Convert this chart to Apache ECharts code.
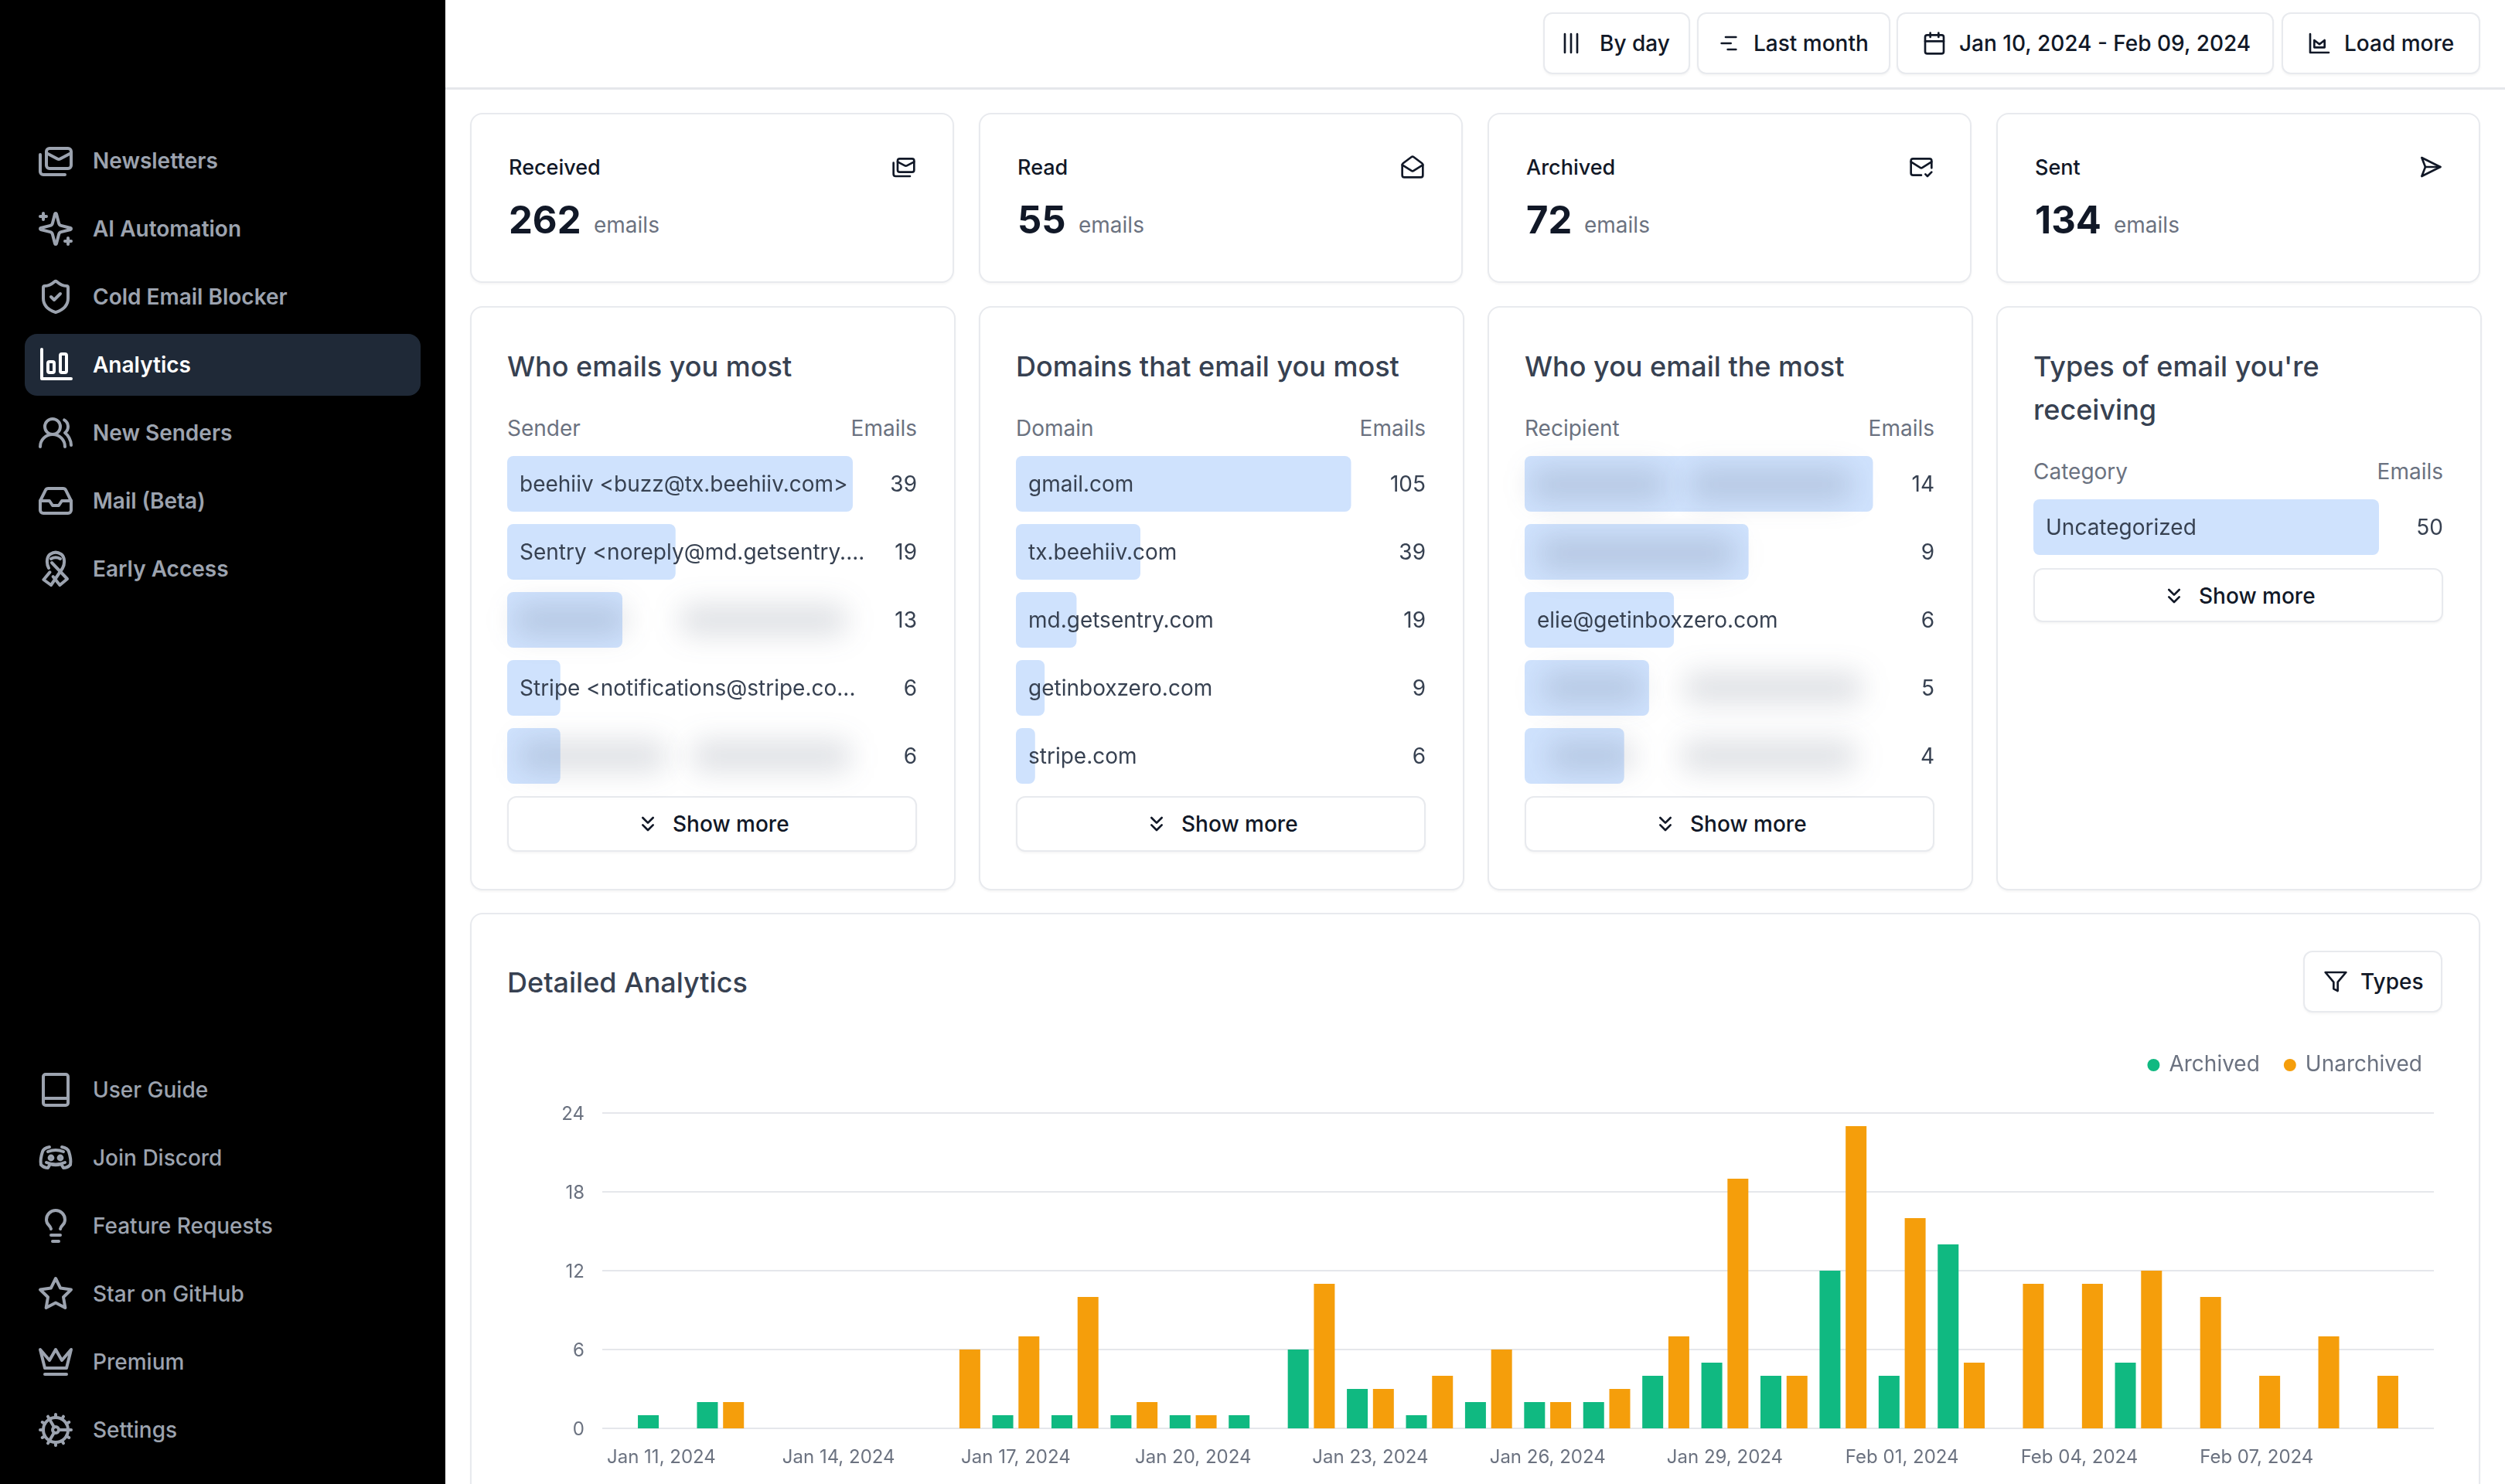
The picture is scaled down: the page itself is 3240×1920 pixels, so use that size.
<!DOCTYPE html>
<html><head><meta charset="utf-8">
<script src="https://cdn.jsdelivr.net/npm/echarts@6/dist/echarts.min.js"></script>
<style>
html,body{margin:0;padding:0;background:#fff;width:3240px;height:1920px;overflow:hidden;font-family:Inter,sans-serif}
#root,#chart{position:absolute;left:0;top:0;width:3240px;height:1920px}
#chart{z-index:2}
.box{position:absolute;box-sizing:border-box;background:#fff;border:2px solid #e8eaee;box-shadow:0 2px 3px rgba(0,0,0,.04)}
.t{position:absolute;white-space:nowrap;line-height:1;transform:translateY(-50%)}
.i{position:absolute;fill:none;stroke:currentColor;stroke-linecap:round;stroke-linejoin:round}
.b{position:absolute;z-index:3;background:rgba(60,72,95,.17);border-radius:14px;filter:blur(18px)}
</style></head><body>
<div id="root"></div><div id="chart"></div>
<div id="blobs"></div>
<script>
// ---- data ----
const dayLabels=['Jan 11, 2024','Jan 12, 2024','Jan 13, 2024','Jan 14, 2024','Jan 15, 2024','Jan 16, 2024','Jan 17, 2024','Jan 18, 2024','Jan 19, 2024','Jan 20, 2024','Jan 21, 2024','Jan 22, 2024','Jan 23, 2024','Jan 24, 2024','Jan 25, 2024','Jan 26, 2024','Jan 27, 2024','Jan 28, 2024','Jan 29, 2024','Jan 30, 2024','Jan 31, 2024','Feb 01, 2024','Feb 02, 2024','Feb 03, 2024','Feb 04, 2024','Feb 05, 2024','Feb 06, 2024','Feb 07, 2024','Feb 08, 2024','Feb 09, 2024'];
const archived  =[1,2,0,0,0,0,1,1,1,1,1,6,3,1,2,2,2,4,5,4,12,4,14,0,0,5,0,0,0,0];
const unarchived=[0,2,0,0,0,6,7,10,2,1,0,11,3,4,6,2,3,7,19,4,23,16,5,11,11,12,10,4,7,4];
const labeledDays=[0,3,6,9,12,15,18,21,24,27];
const senderNames=['beehiiv <buzz@tx.beehiiv.com>','Sentry <noreply@md.getsentry....','','Stripe <notifications@stripe.co...',''];
const senderValues=[39,19,13,6,6];
const domainNames=['gmail.com','tx.beehiiv.com','md.getsentry.com','getinboxzero.com','stripe.com'];
const domainValues=[105,39,19,9,6];
const recipientNames=['','','elie@getinboxzero.com','',''];
const recipientValues=[14,9,6,5,4];
const categoryNames=['Uncategorized'];
const categoryValues=[50];
const statCards=[['Received','262','mails'],['Read','55','open'],['Archived','72','check'],['Sent','134','send']];
const navTop=[['Newsletters','mails'],['AI Automation','spark'],['Cold Email Blocker','shield'],['Analytics','chart'],['New Senders','users'],['Mail (Beta)','inbox'],['Early Access','ribbon']];
const navBottom=[['User Guide','book'],['Join Discord','discord'],['Feature Requests','bulb'],['Star on GitHub','star'],['Premium','crown'],['Settings','cog']];

// ---- chrome ----
const ICON={
mails:'<rect width="16" height="13" x="6" y="4" rx="2"/><path d="m22 7-7.1 3.78c-.57.3-1.23.3-1.8 0L6 7"/><path d="M2 8v11c0 1.1.9 2 2 2h14"/>',
spark:'<path d="M9.937 15.5A2 2 0 0 0 8.5 14.063l-6.135-1.582a.5.5 0 0 1 0-.962L8.5 9.936A2 2 0 0 0 9.937 8.5l1.582-6.135a.5.5 0 0 1 .963 0L14.063 8.5A2 2 0 0 0 15.5 9.937l6.135 1.581a.5.5 0 0 1 0 .964L15.5 14.063a2 2 0 0 0-1.437 1.437l-1.582 6.135a.5.5 0 0 1-.963 0z"/><path d="M4 2v4M2 4h4M20 18v4M18 20h4"/>',
shield:'<path d="M20 13c0 5-3.5 7.5-7.66 8.95a1 1 0 0 1-.67-.01C7.5 20.5 4 18 4 13V6a1 1 0 0 1 1-1c2 0 4.5-1.2 6.24-2.72a1.17 1.17 0 0 1 1.52 0C14.51 3.81 17 5 19 5a1 1 0 0 1 1 1z"/><path d="m9 12 2 2 4-4"/>',
chart:'<path d="M3 2v19h19"/><rect width="4" height="7" x="7" y="10" rx="1"/><rect width="4" height="12" x="15" y="5" rx="1"/>',
users:'<path d="M18 21a8 8 0 0 0-16 0"/><circle cx="10" cy="8" r="5"/><path d="M22 20c0-3.37-2-6.5-4-8a5 5 0 0 0-.45-8.3"/>',
inbox:'<polyline points="22 12 16 12 14 15 10 15 8 12 2 12"/><path d="M5.45 5.11 2 12v6a2 2 0 0 0 2 2h16a2 2 0 0 0 2-2v-6l-3.45-6.89A2 2 0 0 0 16.76 4H7.24a2 2 0 0 0-1.79 1.11z"/>',
ribbon:'<path d="M7.5 11.5C5.8 8.500 6.200 4 8.500 2.500c2.200-1.500 4.800-1.500 7 0 2.300 1.500 2.700 6 1 9L9 22.500l-4.800-3.500 4-4.800"/><path d="M9 5.500c1.900-1.100 4.100-1.100 6 0M9.500 8l10 10.500-4.800 4-4.400-5.500"/>',
book:'<rect x="4" y="2" width="16" height="20" rx="1.5"/><path d="M4 17.5h16"/>',
discord:'<path d="M8 5C5 5.5 4 6.5 3.5 8 2.5 11 2 14 2.500 16.500 4 18 6 18.500 7 18.500L8.500 16c2 .7 5 .7 7 0L17 18.500c1 0 3-.5 4.500-2 .5-2.500 0-5.500-1-8.500-.5-1.500-1.500-2.500-4.500-3"/><path d="M7 8q5-2 10 0M6 15q6 2.500 12 0"/><circle cx="9" cy="12" r="1.200"/><circle cx="15" cy="12" r="1.200"/>',
bulb:'<path d="M15 14c.2-1 .7-1.700 1.500-2.500 1-.9 1.500-2.200 1.500-3.500A6 6 0 0 0 6 8c0 1 .2 2.200 1.500 3.500.7.7 1.300 1.500 1.500 2.500"/><path d="M9 18h6"/><path d="M10 22h4"/>',
star:'<polygon points="12 2 15.09 8.26 22 9.27 17 14.14 18.18 21.02 12 17.77 5.82 21.02 7 14.14 2 9.27 8.91 8.26 12 2"/>',
crown:'<path d="M2 4l3 12h14l3-12-6 7-4-7-4 7-6-7z"/><path d="M5 20h14"/>',
cog:'<path d="M12 20a8 8 0 1 0 0-16 8 8 0 0 0 0 16Z"/><path d="M12 14a2 2 0 1 0 0-4 2 2 0 0 0 0 4Z"/><path d="M12 2v2"/><path d="M12 22v-2"/><path d="m17 20.660-1-1.730"/><path d="M11 10.270 7 3.340"/><path d="m20.660 17-1.730-1"/><path d="m3.340 7 1.730 1"/><path d="M14 12h8"/><path d="M2 12h2"/><path d="m20.660 7-1.730 1"/><path d="m3.340 17 1.730-1"/><path d="m17 3.340-1 1.730"/><path d="m11 13.730-4 6.930"/>',
open:'<path d="M21.2 8.4c.5.38.8.97.8 1.6v10a2 2 0 0 1-2 2H4a2 2 0 0 1-2-2V10a2 2 0 0 1 .8-1.600l8-6a2 2 0 0 1 2.400 0l8 6Z"/><path d="m22 10-8.970 5.700a1.940 1.940 0 0 1-2.060 0L2 10"/>',
check:'<path d="M22 13V6a2 2 0 0 0-2-2H4a2 2 0 0 0-2 2v12c0 1.100.9 2 2 2h8"/><path d="m22 7-8.970 5.700a1.940 1.940 0 0 1-2.060 0L2 7"/><path d="m16 19 2 2 4-4"/>',
send:'<path d="M4 3 22 12 4 21 7.500 12Z"/><path d="M7.500 12H22"/>',
cols:'<path d="M6 3v18M12 3v18M18 3v18"/>',
lines:'<path d="M9 6h10M5 12h9M11 18h8"/>',
cal:'<rect x="3" y="4" width="18" height="18" rx="2"/><path d="M16 2v4M8 2v4M3 10h18"/>',
load:'<path d="M3 3v18h18"/><path d="M7 16V9l5 4 5-4v7z"/>',
chev:'<path d="m7 6 5 5 5-5M7 13l5 5 5-5"/>',
filter:'<polygon points="22 3 2 3 10 12.460 10 19 14 21 14 12.460 22 3"/>'
};
const root=document.getElementById('root');
function box(x,y,w,h,r,bg){const d=document.createElement('div');d.className='box';d.style.cssText=`left:${x}px;top:${y}px;width:${w}px;height:${h}px;border-radius:${r}px;`+(bg||'');root.appendChild(d);return d}
function text(s,x,y,size,color,weight,align){const d=document.createElement('div');d.className='t';d.textContent=s;
 d.style.cssText=`top:${y}px;font-size:${size}px;color:${color};font-weight:${weight||400};`+(align==='right'?`right:${3240-x}px;`:`left:${x}px;`);root.appendChild(d);return d}
function icon(n,cx,cy,size,color,sw){root.insertAdjacentHTML('beforeend',`<svg class="i" viewBox="0 0 24 24" stroke-width="${sw||2}" style="left:${cx-size/2}px;top:${cy-size/2}px;width:${size}px;height:${size}px;color:${color}">${ICON[n]}</svg>`)}
function rect(x,y,w,h,bg,r){const d=document.createElement('div');d.style.cssText=`position:absolute;left:${x}px;top:${y}px;width:${w}px;height:${h}px;background:${bg};border-radius:${r||0}px`;root.appendChild(d)}

// sidebar
rect(0,0,576,1920,'#000');
rect(32,432,512,80,'#1f2937',16);
const GREY='#9ca3af';
navTop.forEach((n,i)=>{const y=208+88*i,a=n[0]==='Analytics';icon(n[1],72,y,48,a?'#fff':GREY,2);text(n[0],120,y,28,a?'#fff':GREY,600)});
navBottom.forEach((n,i)=>{const y=1410+88*i;icon(n[1],72,y,48,GREY,2);text(n[0],120,y,28,GREY,500)});

// header
rect(576,113,2664,3,'#e5e7eb');
[[1996,190,'By day',2069,'cols',2032],[2195,250,'Last month',2268,'lines',2236],[2453,488,'Jan 10, 2024 - Feb 09, 2024',2534,'cal',2502],[2951,257,'Load more',3032,'load',3000]].forEach(b=>{
 box(b[0],16,b[1],80,12);icon(b[4],b[5],56,32,'#111827',2);text(b[2],b[3],56,28,'#111827',500)});

// stat cards
const cardX=[608,1266,1924,2582];
statCards.forEach((c,i)=>{const x=cardX[i];box(x,146,626,220,16);
 text(c[0],x+50,216,27,'#111827',500);icon(c[2],x+561,216,32,'#111827',2);
 const n=text(c[1],x+50,284,49,'#111827',700);
 const m=text('emails',x+50+n.offsetWidth+16,291,28,'#6b7280',400)});

// list panels
const TITLE='#374151',SUB='#6b7280';
const panels=[
 {t:['Who emails you most'],h:'Sender',names:senderNames,values:senderValues,w:447},
 {t:['Domains that email you most'],h:'Domain',names:domainNames,values:domainValues,w:433.5},
 {t:['Who you email the most'],h:'Recipient',names:recipientNames,values:recipientValues,w:450.5},
 {t:["Types of email you're",'receiving'],h:'Category',names:categoryNames,values:categoryValues,w:447}
];
panels.forEach((p,i)=>{const x=cardX[i];box(x,396,628,756,16);
 const lx=x+48,rx=x+578,off=p.t.length===2?56:0;
 p.t.forEach((s,k)=>text(s,lx,474+56*k,36,TITLE,500));
 text(p.h,lx,554+off,28,SUB);text('Emails',rx,554+off,28,SUB,400,'right');
 const top=off?735:1030;
 box(lx,top,530,off?70:72,12);
 icon('chev',lx+182,top+36,32,'#111827',2);text('Show more',lx+214,top+36,28,'#111827',500);
 p.x=lx;p.y=590+off-8;p.rx=rx;
});

// detailed card
box(608,1181,2600,800,16);
text('Detailed Analytics',656,1271,36,TITLE,500);
box(2979,1230,180,80,12);icon('filter',3021,1270,32,'#111827',2);text('Types',3053,1270,28,'#111827',500);

// blurred-out names
[[665,782,145,40],[880,782,215,40],[672,958,190,40],[895,958,205,40],[1980,606,175,42],[2185,606,210,42],[1990,694,255,44],[1995,870,130,40],[2178,870,230,40],[2003,958,110,40],[2175,958,225,40]].forEach(b=>{
 document.getElementById('blobs').insertAdjacentHTML('beforeend',`<div class="b" style="left:${b[0]}px;top:${b[1]}px;width:${b[2]}px;height:${b[3]}px"></div>`)});

// ---- chart ----
const grids=[{left:779,top:1440,width:2369,height:408}];
const xAxes=[{type:'value',gridIndex:0,min:-1,max:30,splitLine:{show:false},axisLine:{show:false},axisTick:{show:false},
 axisLabel:{customValues:labeledDays,formatter:v=>dayLabels[v],fontFamily:'Inter',fontSize:24,color:'#6b7280',margin:26}}];
const yAxes=[{type:'value',gridIndex:0,min:0,max:24,interval:6,axisLine:{show:false},axisTick:{show:false},
 splitLine:{lineStyle:{color:'#e5e7eb',width:2}},axisLabel:{fontFamily:'Inter',fontSize:24,color:'#6b7280',margin:23,verticalAlign:'top',lineHeight:4}}];
const pairs=a=>a.map((v,i)=>[i,v]);
const series=[
 {name:'Archived',type:'bar',xAxisIndex:0,yAxisIndex:0,barWidth:27,barGap:'25%',data:pairs(archived),itemStyle:{color:'#10b981'}},
 {name:'Unarchived',type:'bar',xAxisIndex:0,yAxisIndex:0,barWidth:27,barGap:'25%',data:pairs(unarchived),itemStyle:{color:'#f59e0b'}}
];
panels.forEach((p,i)=>{
 const g=grids.length;
 grids.push({left:p.x,top:p.y,width:p.w,height:88*p.values.length});
 xAxes.push({type:'value',gridIndex:g,min:0,max:p.values[0],show:false});
 const ya=yAxes.length;
 const common={type:'category',gridIndex:g,inverse:true,z:6,axisLine:{show:false},axisTick:{show:false},splitLine:{show:false}};
 yAxes.push({...common,position:'left',data:p.names,axisLabel:{inside:true,interval:0,margin:16,verticalAlign:'top',lineHeight:4,fontFamily:'Inter',fontSize:28,color:'#374151'}});
 yAxes.push({...common,position:'right',data:p.values.map(String),axisLabel:{interval:0,align:'right',margin:p.rx-p.x-p.w,verticalAlign:'top',lineHeight:4,fontFamily:'Inter',fontSize:28,color:'#374151'}});
 series.push({type:'bar',xAxisIndex:g,yAxisIndex:ya,barWidth:72,data:p.values,itemStyle:{color:'#cfe2fd',borderRadius:8}});
});
const chart=echarts.init(document.getElementById('chart'),null,{width:3240,height:1920});
chart.setOption({animation:false,backgroundColor:'transparent',
 legend:{data:['Archived','Unarchived'],right:102,top:1359,icon:'circle',itemWidth:16,itemHeight:16,itemGap:31,
  textStyle:{fontFamily:'Inter',fontSize:28,color:'#6b7280',padding:[0,0,0,7]}},
 grid:grids,xAxis:xAxes,yAxis:yAxes,series:series});
</script></body></html>
